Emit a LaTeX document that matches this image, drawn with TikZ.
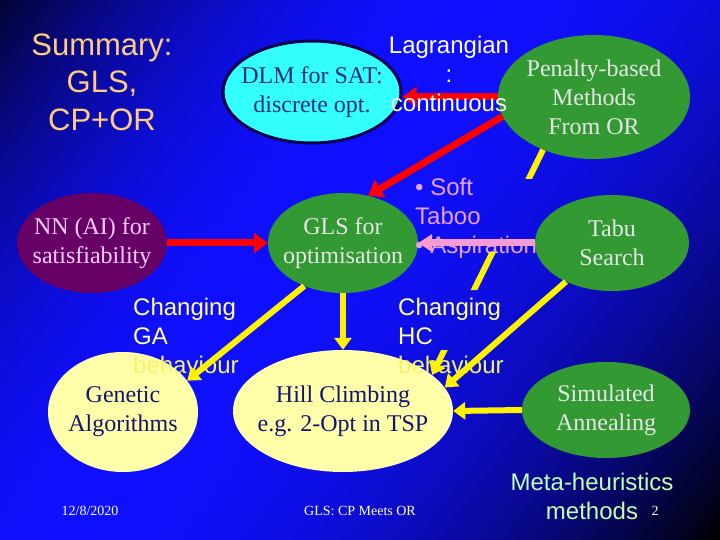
\documentclass[tikz,border=0pt]{standalone}
\usepackage{fontspec}
\setmainfont{Liberation Serif}
\newfontfamily\arialf{Liberation Sans}
\usetikzlibrary{shapes.geometric,arrows.meta}
\newcommand\myfs[2]{\fontsize{#1bp}{#2bp}\selectfont}
\definecolor{ggreen}{HTML}{339933}
\definecolor{gtext}{HTML}{E6E6E6}
\definecolor{cyanf}{HTML}{33FFFF}
\definecolor{dlmborder}{HTML}{000050}
\definecolor{dlmtext}{HTML}{202C80}
\definecolor{lyellow}{HTML}{FFFF99}
\definecolor{ellyellow}{HTML}{FFFFAA}
\definecolor{fadeyellow}{HTML}{F4F46A}
\definecolor{navytext}{HTML}{141470}
\definecolor{nnfill}{HTML}{660066}
\definecolor{nntext}{HTML}{FFCCFF}
\definecolor{peach}{HTML}{FFCC80}
\definecolor{pinktext}{HTML}{E6A0E6}
\definecolor{pinkarrow}{HTML}{FF99CC}
\definecolor{metagreen}{HTML}{C0FFB4}
\pgfdeclarefunctionalshading{bgsh}{\pgfpoint{0bp}{0bp}}{\pgfpoint{720bp}{540bp}}{}{
 540 exch sub 540 mul exch 720 mul add 810000 div
 0.42 sub dup 0 lt {0.42 div dup mul 0.8 mul} {0.58 div dup mul} ifelse
 1 exch sub dup 0 lt {pop 0} if
 dup 0.06 mul dup 3 -1 roll
}
\begin{document}
\begin{tikzpicture}[x=1bp,y=-1bp,
  ell/.style={ellipse, inner xsep=-40bp, inner ysep=-30bp, align=center, font=\myfs{24}{29}},
  grn/.style={ell, fill=ggreen, text=gtext},
  ylw/.style={ell, fill=ellyellow, text=navytext},
  sanstext/.style={align=left, inner sep=0pt, font=\arialf\myfs{24}{29}},
  foot/.style={inner sep=0pt, text=white, font=\myfs{14}{16}},
  redarr/.style={draw=red, line width=7bp, -{Triangle[length=14bp,width=20bp]}},
  yarr/.style={draw=yellow, line width=6bp, -{Triangle[length=12bp,width=17bp]}},
  pinkarr/.style={draw=pinkarrow, line width=7bp, -{Triangle[length=14bp,width=17bp]}}
]
\useasboundingbox (0,0) rectangle (720,540);
\node[inner sep=0pt, outer sep=0pt, anchor=north west] (bg) at (0,0) {\pgfuseshading{bgsh}};

% title
\node[align=center, inner sep=0pt, text=peach, font=\arialf\myfs{31}{37.5}] (title) at (102,82) {Summary:\\GLS,\\CP+OR};

% ellipses
\node[ell, fill=cyanf, draw=dlmborder, line width=3bp, text=dlmtext, minimum width=178bp, minimum height=102bp] (dlm) at (312,92) {DLM for SAT:\\discrete opt.};
\node[grn, minimum width=192bp, minimum height=124bp] (pen) at (594,97) {Penalty-based\\Methods\\From OR};
\node[ell, fill=nnfill, text=nntext, minimum width=150bp, minimum height=100bp] (nn) at (92,243) {NN (AI) for\\satisfiability};
\node[grn, minimum width=150bp, minimum height=100bp] (gls) at (343,243) {GLS for\\optimisation};
\node[grn, minimum width=154bp, minimum height=96bp] (tabu) at (612,243) {Tabu\\Search};
\node[ylw, minimum width=150bp, minimum height=120bp] (ga) at (123,412) {Genetic\\Algorithms};
\node[ylw, minimum width=220bp, minimum height=122bp] (hc) at (343,411) {Hill Climbing\\e.g. 2-Opt in TSP};
\node[grn, minimum width=168bp, minimum height=96bp] (sa) at (606,410) {Simulated\\Annealing};

% pink connector under its text
\draw[pinkarr] (tabu.west) -- (gls.east);

% texts
\node[sanstext, text=pinktext, anchor=west] (taboo) at (415,218) {\textbullet\ Soft\\Taboo\\\textbullet\ Aspiration};
\node[sanstext, text=lyellow, anchor=west] (chga) at (133,336) {Changing\\GA\\\textcolor{fadeyellow}{behaviour}};
\node[sanstext, text=lyellow, anchor=west] (chhc) at (398,336) {Changing\\HC\\\textcolor{fadeyellow}{behaviour}};
\node[align=center, inner sep=0pt, text=metagreen, font=\arialf\myfs{24}{29}] (meta) at (592,496) {Meta-heuristics\\methods};
\node[foot] (date) at (90,511) {12/8/2020};
\node[foot] (foottitle) at (360,511) {GLS: CP Meets OR};
\node[foot] (page) at (655,511) {2};

% connectors
\draw[redarr] (pen.west) -- (pen.west -| dlm.east);
\draw[redarr] (pen.192) -- (gls.62);
\draw[redarr] (nn.east) -- (gls.west);
\draw[yarr] (gls.south) -- (hc.north);
\draw[yarr] (gls.228) -- (ga.26);
\begin{scope}
  \clip (0,0) rectangle (720,540) (545,179) rectangle (400,252) (520,290) rectangle (390,350);
  \draw[yarr] (pen.226) -- (hc.22);
\end{scope}
\draw[yarr] (tabu.220) -- (hc.13);
\draw[yarr] (sa.west) -- (hc.east);

\node[align=center, inner sep=0pt, text=white, font=\arialf\myfs{24}{29}] (lagr) at (449,74) {Lagrangian\\:\\continuous};
\end{tikzpicture}
\end{document}
